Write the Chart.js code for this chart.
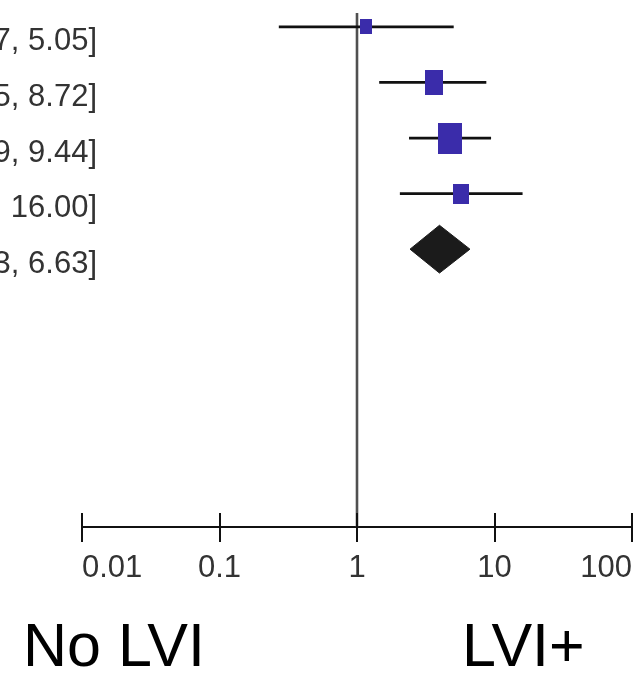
<!DOCTYPE html>
<html>
<head>
<meta charset="utf-8">
<script src="https://cdn.jsdelivr.net/npm/chart.js@4"></script>
<style>
  html, body { margin: 0; padding: 0; background: #fff; }
</style>
</head>
<body>
<canvas id="forest" width="644" height="678"></canvas>
<script>
// Studien (Namen im Ausschnitt abgeschnitten), letzte Zeile = gepoolt
const studies = ['Study 1', 'Study 2', 'Study 3', 'Study 4', 'Total'];
const oddsRatio = [1.16, 3.62, 4.78, 5.75, 3.98];
const ciLower = [0.27, 1.45, 2.39, 2.05, 2.43];
const ciUpper = [5.05, 8.72, 9.44, 16.00, 6.63];

const tickValues = [0.01, 0.1, 1, 10, 100];
const tickLabels = ['0.01', '0.1', '1', '10', '100'];
const sideLabels = ['No LVI', 'LVI+'];

const FONT = '"Liberation Sans", Arial, Helvetica, sans-serif';
const BOX_COLOR = '#3a2caa';
const Y_MIN = -0.25, Y_MAX = 9;
const DIAMOND_HALF = 0.43;
// Kastengroesse je Studie (Breite, Hoehe in px)
const boxSizes = [[12, 15], [18, 25], [24, 31], [16, 20]];

function boxImage(w, h) {
    const c = document.createElement('canvas');
    c.width = w; c.height = h;
    const g = c.getContext('2d');
    g.fillStyle = BOX_COLOR;
    g.fillRect(0, 0, w, h);
    return c;
}

const nStudies = studies.length - 1;
const pooled = studies.length - 1;

const datasets = [];

// Punktschaetzer als Kaesten
datasets.push({
    type: 'scatter',
    data: studies.slice(0, nStudies).map((s, i) => ({ x: oddsRatio[i], y: i })),
    pointStyle: boxSizes.map(s => boxImage(s[0], s[1])),
    order: 0
});

// Raute fuer den gepoolten Schaetzer
datasets.push({
    type: 'line',
    data: [
        { x: ciLower[pooled], y: pooled },
        { x: oddsRatio[pooled], y: pooled - DIAMOND_HALF },
        { x: ciUpper[pooled], y: pooled },
        { x: oddsRatio[pooled], y: pooled + DIAMOND_HALF },
        { x: ciLower[pooled], y: pooled }
    ],
    borderColor: '#1b1b1b',
    backgroundColor: '#1b1b1b',
    borderWidth: 1,
    fill: 'shape',
    pointRadius: 0,
    tension: 0,
    order: 1
});

// Konfidenzintervalle
for (let i = 0; i < nStudies; i++) {
    datasets.push({
        type: 'line',
        data: [{ x: ciLower[i], y: i }, { x: ciUpper[i], y: i }],
        borderColor: '#111',
        borderWidth: 2.8,
        pointRadius: 0,
        order: 2
    });
}

// Nulllinie bei OR = 1
datasets.push({
    type: 'line',
    data: [{ x: 1, y: Y_MIN }, { x: 1, y: Y_MAX }],
    borderColor: '#505050',
    borderWidth: 2.6,
    pointRadius: 0,
    order: 3
});

const forestText = {
    id: 'forestText',
    afterDraw(chart) {
        const ctx = chart.ctx;
        const xs = chart.scales.x;
        const ys = chart.scales.y;
        const area = chart.chartArea;
        ctx.save();

        // Teilstriche oberhalb der Achse
        ctx.strokeStyle = '#111';
        ctx.lineWidth = 2;
        tickValues.forEach(v => {
            const px = Math.round(xs.getPixelForValue(v));
            ctx.beginPath();
            ctx.moveTo(px, area.bottom - 14);
            ctx.lineTo(px, area.bottom);
            ctx.stroke();
        });

        // OR [KI] Texte links
        ctx.fillStyle = '#333';
        ctx.font = '31px ' + FONT;
        ctx.textAlign = 'right';
        ctx.textBaseline = 'middle';
        studies.forEach((s, i) => {
            const txt = oddsRatio[i].toFixed(2) + ' [' + ciLower[i].toFixed(2) + ', ' + ciUpper[i].toFixed(2) + ']';
            ctx.fillText(txt, 97, ys.getPixelForValue(i) + 15);
        });

        // Seitenbeschriftung unten
        ctx.fillStyle = '#000';
        ctx.font = '61px ' + FONT;
        ctx.textAlign = 'left';
        ctx.textBaseline = 'alphabetic';
        ctx.fillText(sideLabels[0], 23, 666);
        ctx.fillText(sideLabels[1], 462, 666);
        ctx.restore();
    }
};

new Chart(document.getElementById('forest'), {
    type: 'scatter',
    data: { datasets },
    options: {
        responsive: false,
        animation: false,
        events: [],
        layout: { padding: { left: 82, right: 12, top: 13, bottom: 91 } },
        plugins: { legend: { display: false }, tooltip: { enabled: false } },
        scales: {
            x: {
                type: 'logarithmic',
                min: 0.01,
                max: 100,
                afterBuildTicks: s => { s.ticks = tickValues.map(v => ({ value: v })); },
                afterFit: s => { s.height = 60; },
                ticks: {
                    autoSkip: false,
                    maxRotation: 0,
                    align: 'inner',
                    padding: 8,
                    color: '#333',
                    font: { family: FONT, size: 31 },
                    callback: v => tickLabels[tickValues.indexOf(v)]
                },
                grid: { drawOnChartArea: false, drawTicks: true, tickLength: 15, color: '#111', lineWidth: 2 },
                border: { display: true, color: '#111', width: 2 }
            },
            y: {
                type: 'linear',
                reverse: true,
                min: Y_MIN,
                max: Y_MAX,
                display: false
            }
        }
    },
    plugins: [forestText]
});
</script>
</body>
</html>
